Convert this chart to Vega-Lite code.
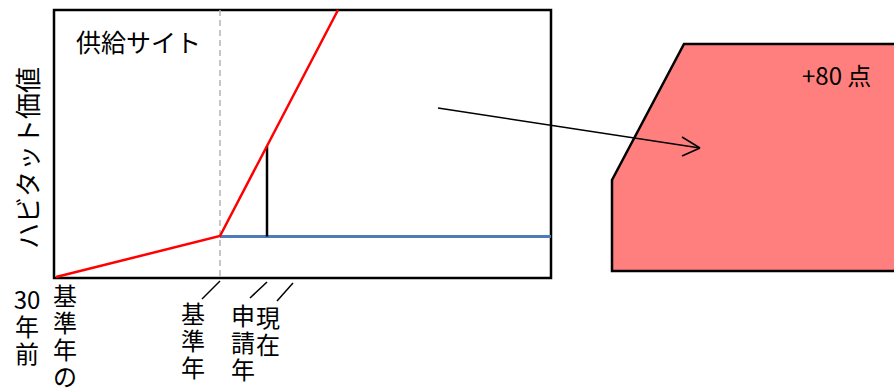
{
  "$schema": "https://vega.github.io/schema/vega-lite/v6.json",
  "width": 894,
  "height": 389,
  "autosize": {"type": "none"},
  "padding": 0,
  "background": "white",
  "config": {"view": {"stroke": null}},
  "datasets": {
    "pink": [
      {"x": 612, "y": 180, "y2": 271},
      {"x": 684, "y": 44, "y2": 271},
      {"x": 894, "y": 44, "y2": 271}
    ],
    "outline": [
      {"o": 1, "x": 894, "y": 271},
      {"o": 2, "x": 612, "y": 271},
      {"o": 3, "x": 612, "y": 180},
      {"o": 4, "x": 684, "y": 44},
      {"o": 5, "x": 894, "y": 44}
    ],
    "box": [{"x": 54, "x2": 551, "y": 10, "y2": 278}],
    "segments": [
      {"kind": "dash", "x": 220, "y": 10, "x2": 220, "y2": 278},
      {"kind": "blue", "x": 220, "y": 236.5, "x2": 551, "y2": 236.5},
      {"kind": "black", "x": 267, "y": 236.5, "x2": 267, "y2": 146},
      {"kind": "thin", "x": 220, "y": 281, "x2": 202, "y2": 299},
      {"kind": "thin", "x": 267, "y": 282, "x2": 250, "y2": 298},
      {"kind": "thin", "x": 293, "y": 283, "x2": 277, "y2": 301},
      {"kind": "thin", "x": 438, "y": 108, "x2": 700, "y2": 148},
      {"kind": "thin", "x": 682, "y": 137, "x2": 700, "y2": 148},
      {"kind": "thin", "x": 682, "y": 156, "x2": 700, "y2": 148}
    ],
    "red": [
      {"o": 1, "x": 56, "y": 277},
      {"o": 2, "x": 220, "y": 236},
      {"o": 3, "x": 338, "y": 10}
    ],
    "labels": [
      {"label": "供給サイト", "x": 76, "y": 52, "kind": "left"},
      {"label": "+80 点", "x": 802, "y": 85, "kind": "small"},
      {"label": "30\n年\n前", "x": 27, "y": 290, "kind": "stack"},
      {"label": "基\n準\n年\nの", "x": 65, "y": 286, "kind": "stack"},
      {"label": "基\n準\n年", "x": 193, "y": 304, "kind": "stack"},
      {"label": "申\n請\n年", "x": 243, "y": 306, "kind": "stack"},
      {"label": "現\n在", "x": 268, "y": 308, "kind": "stack"}
    ],
    "ytitle": [{"label": "ハビタット価値", "x": 30, "y": 158}]
  },
  "layer": [
    {
      "data": {"name": "pink"},
      "mark": {"type": "area", "color": "#ff7f7f", "opacity": 1},
      "encoding": {
        "x": {"field": "x", "type": "quantitative", "scale": {"domain": [0, 894], "nice": false, "zero": false}, "axis": null},
        "y": {"field": "y", "type": "quantitative", "scale": {"domain": [0, 389], "nice": false, "zero": false, "reverse": true}, "axis": null},
        "y2": {"field": "y2"}
      }
    },
    {
      "data": {"name": "outline"},
      "mark": {"type": "line", "color": "black", "strokeWidth": 2.5},
      "encoding": {
        "x": {"field": "x", "type": "quantitative"},
        "y": {"field": "y", "type": "quantitative"},
        "order": {"field": "o", "type": "quantitative"}
      }
    },
    {
      "data": {"name": "box"},
      "mark": {"type": "rect", "filled": false, "stroke": "black", "strokeWidth": 2.5},
      "encoding": {
        "x": {"field": "x", "type": "quantitative"},
        "x2": {"field": "x2"},
        "y": {"field": "y", "type": "quantitative"},
        "y2": {"field": "y2"}
      }
    },
    {
      "data": {"name": "segments"},
      "transform": [{"filter": "datum.kind == 'dash'"}],
      "mark": {"type": "rule", "color": "#b4b4b4", "strokeWidth": 1.5, "strokeDash": [6, 4]},
      "encoding": {
        "x": {"field": "x", "type": "quantitative"},
        "x2": {"field": "x2"},
        "y": {"field": "y", "type": "quantitative"},
        "y2": {"field": "y2"}
      }
    },
    {
      "data": {"name": "segments"},
      "transform": [{"filter": "datum.kind == 'blue'"}],
      "mark": {"type": "rule", "color": "#4f7cb8", "strokeWidth": 3},
      "encoding": {
        "x": {"field": "x", "type": "quantitative"},
        "x2": {"field": "x2"},
        "y": {"field": "y", "type": "quantitative"},
        "y2": {"field": "y2"}
      }
    },
    {
      "data": {"name": "segments"},
      "transform": [{"filter": "datum.kind == 'black'"}],
      "mark": {"type": "rule", "color": "black", "strokeWidth": 2.5},
      "encoding": {
        "x": {"field": "x", "type": "quantitative"},
        "x2": {"field": "x2"},
        "y": {"field": "y", "type": "quantitative"},
        "y2": {"field": "y2"}
      }
    },
    {
      "data": {"name": "segments"},
      "transform": [{"filter": "datum.kind == 'thin'"}],
      "mark": {"type": "rule", "color": "black", "strokeWidth": 1.5},
      "encoding": {
        "x": {"field": "x", "type": "quantitative"},
        "x2": {"field": "x2"},
        "y": {"field": "y", "type": "quantitative"},
        "y2": {"field": "y2"}
      }
    },
    {
      "data": {"name": "red"},
      "mark": {"type": "line", "color": "#ff0000", "strokeWidth": 2.5},
      "encoding": {
        "x": {"field": "x", "type": "quantitative"},
        "y": {"field": "y", "type": "quantitative"},
        "order": {"field": "o", "type": "quantitative"}
      }
    },
    {
      "data": {"name": "labels"},
      "transform": [{"filter": "datum.kind == 'left'"}],
      "mark": {"type": "text", "align": "left", "baseline": "alphabetic", "fontSize": 25, "font": "Noto Sans CJK JP", "color": "black"},
      "encoding": {
        "x": {"field": "x", "type": "quantitative"},
        "y": {"field": "y", "type": "quantitative"},
        "text": {"field": "label"}
      }
    },
    {
      "data": {"name": "labels"},
      "transform": [{"filter": "datum.kind == 'small'"}],
      "mark": {"type": "text", "align": "left", "baseline": "alphabetic", "fontSize": 24, "font": "Noto Sans CJK JP", "color": "black"},
      "encoding": {
        "x": {"field": "x", "type": "quantitative"},
        "y": {"field": "y", "type": "quantitative"},
        "text": {"field": "label"}
      }
    },
    {
      "data": {"name": "labels"},
      "transform": [{"filter": "datum.kind == 'stack'"}],
      "mark": {"type": "text", "align": "center", "baseline": "top", "fontSize": 24, "lineHeight": 27, "lineBreak": "\n", "font": "Noto Sans CJK JP", "color": "black"},
      "encoding": {
        "x": {"field": "x", "type": "quantitative"},
        "y": {"field": "y", "type": "quantitative"},
        "text": {"field": "label"}
      }
    },
    {
      "data": {"name": "ytitle"},
      "mark": {"type": "text", "align": "center", "baseline": "middle", "angle": 270, "fontSize": 26, "font": "Noto Sans CJK JP", "color": "black"},
      "encoding": {
        "x": {"field": "x", "type": "quantitative"},
        "y": {"field": "y", "type": "quantitative"},
        "text": {"field": "label"}
      }
    }
  ]
}
